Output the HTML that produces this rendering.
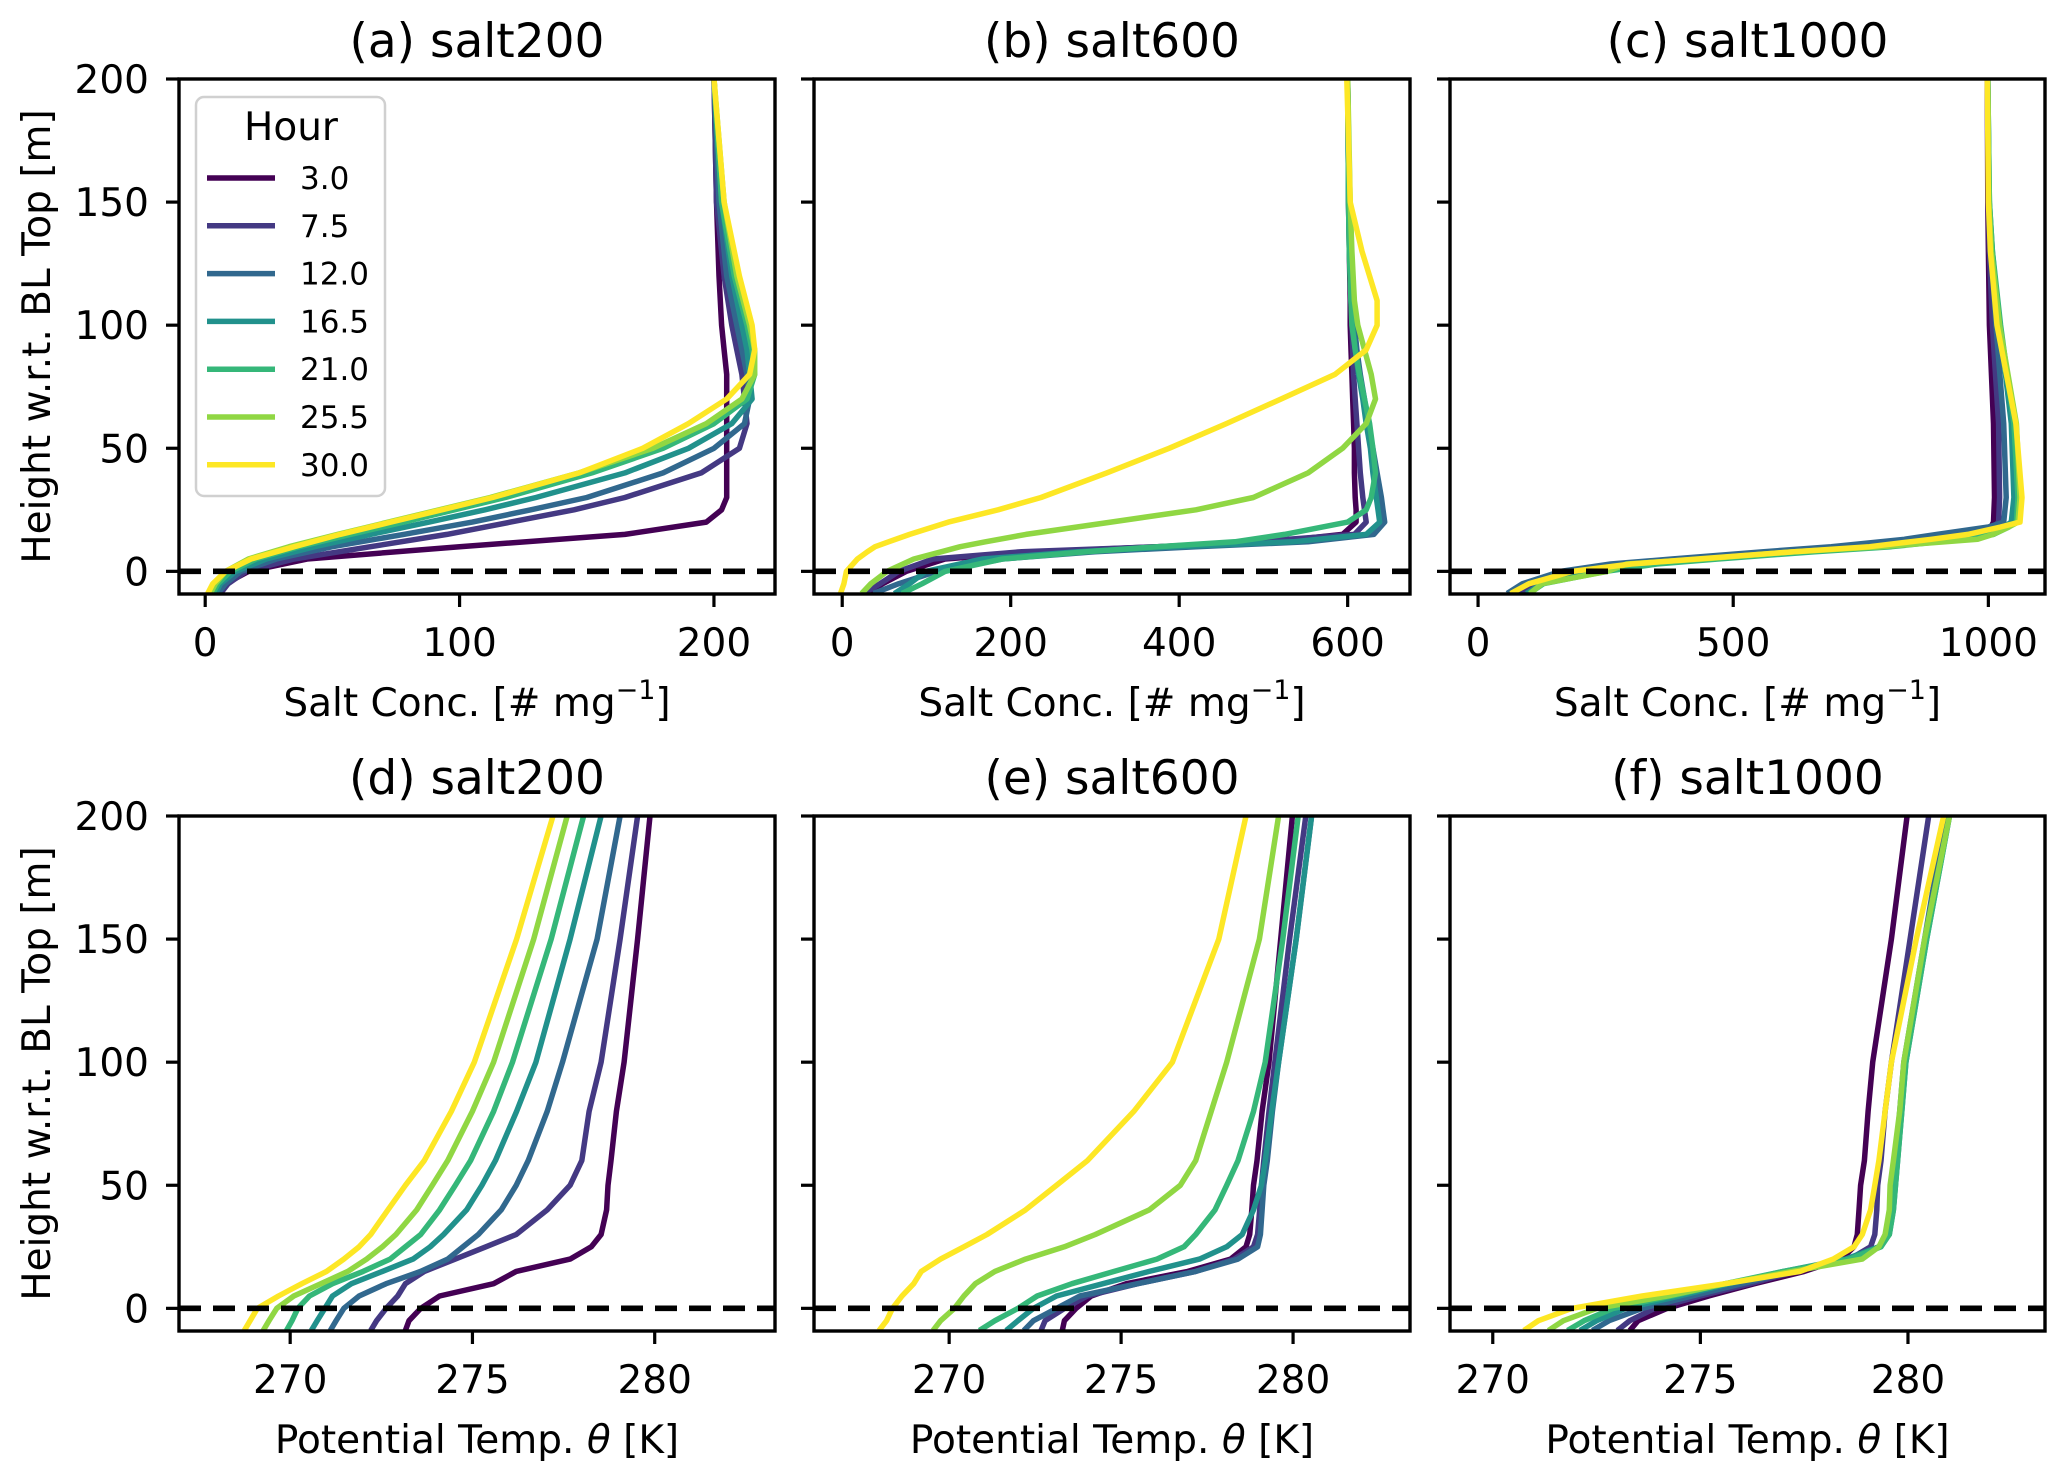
<!DOCTYPE html>
<html><head><meta charset="utf-8"><style>
html,body{margin:0;padding:0;background:#fff;}
svg{display:block;font-family:"DejaVu Sans","Liberation Sans",sans-serif;}
</style></head><body>
<svg id="fig" width="2067" height="1474" viewBox="0 0 2067 1474" xmlns="http://www.w3.org/2000/svg"></svg>
<script>
// ---------- data ----------
const hours = ["3.0","7.5","12.0","16.5","21.0","25.5","30.0"];
const colors = ["#440154","#443983","#31688e","#21918c","#35b779","#90d743","#fde725"];

const heightsA = [-9,-5,0,5,10,15,20,25,30,40,50,60,70,80,90,100,120,150,200];
const saltA_h3   = [5,8,17,40,100,165,197,203,205,205,205,205,205,205,204,203,202,201,200];
const saltA_h7   = [6,9,16,35,65,95,120,145,165,195,210,213,212,211,209,207,204,201,200];
const saltA_h12  = [5,8,14,28,50,78,105,128,150,180,200,212,214,213,211,209,205,202,200];
const saltA_h16  = [4,6,12,24,43,65,88,110,130,165,190,207,215,214,213,211,207,203,200];
const saltA_h21  = [3,5,10,20,37,57,78,98,118,152,180,200,213,216,215,213,208,203,200];
const saltA_h25  = [2,4,8,17,33,52,72,92,112,147,176,197,211,216,216,214,209,204,200];
const saltA_h30  = [1,3,8,18,35,53,73,93,113,147,172,190,205,214,216,215,210,204,200];

const heightsB = [-9,-5,0,5,8,10,12,15,20,25,30,40,50,60,70,80,90,100,110,130,150,200];
const saltB_h3  = [30,48,76,122,236,374,511,594,610,610,609,608,608,607,606,605,604,603,603,602,601,600];
const saltB_h7  = [25,45,67,108,213,374,489,608,622,620,618,615,613,611,609,607,606,605,604,603,602,600];
const saltB_h12 = [37,67,112,190,300,420,553,631,644,642,640,635,630,624,620,615,611,608,606,603,601,600];
const saltB_h16 = [62,80,99,167,280,397,535,622,638,636,634,630,627,622,618,613,609,606,604,602,601,600];
const saltB_h21 = [71,95,122,190,290,374,466,525,600,622,628,633,630,626,620,614,609,605,604,602,601,600];
const saltB_h25 = [23,34,53,85,118,140,170,218,319,420,488,553,594,622,633,628,620,612,608,605,603,600];
const saltB_h30 = [-2,2,5,18,30,39,55,80,126,185,236,314,388,456,521,585,622,635,635,617,603,599];

const heightsC = [-9,-5,0,3,5,8,10,13,15,18,20,30,60,100,130,150,200];
const saltC_h3  = [90,120,200,300,420,600,750,900,980,1005,1010,1012,1010,1002,1000,999,998];
const saltC_h7  = [80,110,190,290,410,590,740,890,975,1010,1020,1022,1020,1008,1002,1000,999];
const saltC_h12 = [57,87,162,260,380,560,692,835,900,1000,1030,1035,1030,1015,1005,1001,999];
const saltC_h16 = [95,125,230,330,450,640,790,930,1000,1030,1045,1050,1045,1022,1008,1002,999];
const saltC_h21 = [100,128,250,350,470,660,810,950,1010,1040,1055,1058,1050,1024,1008,1002,999];
const saltC_h25 = [102,125,253,291,440,620,790,979,1009,1040,1058,1062,1055,1022,1006,1001,999];
const saltC_h30 = [64,100,185,300,430,620,767,888,960,1024,1062,1066,1054,1017,1004,1000,998];

const heightsT = [-9,-5,0,5,10,15,20,25,30,40,50,60,80,100,150,200];
const thetaD_h3  = [273.16,273.26,273.58,274.1,275.58,276.2,277.68,278.26,278.53,278.68,278.72,278.8,278.95,279.16,279.53,279.87];
const thetaD_h7  = [272.21,272.37,272.63,272.95,273.16,273.68,274.53,275.37,276.2,277.05,277.68,278.0,278.2,278.53,279.05,279.53];
const thetaD_h12 = [271.1,271.26,271.47,271.89,272.63,273.58,274.32,274.74,275.16,275.79,276.2,276.53,277.05,277.47,278.42,279.05];
const thetaD_h16 = [270.58,270.74,270.95,271.16,271.68,272.53,273.37,273.84,274.21,274.84,275.26,275.63,276.21,276.74,277.68,278.53];
const thetaD_h21 = [269.9,270.05,270.21,270.53,271.16,272.0,272.74,273.16,273.58,274.1,274.53,274.95,275.58,276.1,277.16,278.05];
const thetaD_h25 = [269.26,269.42,269.63,270.1,270.84,271.58,272.1,272.53,272.9,273.47,273.9,274.32,275.0,275.58,276.68,277.6];
const thetaD_h30 = [268.74,268.9,269.1,269.68,270.32,271.0,271.47,271.89,272.21,272.68,273.16,273.68,274.42,275.05,276.21,277.21];

const thetaE_h3  = [273.29,273.35,273.69,274.13,275.15,276.94,278.18,278.63,278.74,278.8,278.85,278.95,279.1,279.3,279.64,279.98];
const thetaE_h7  = [272.67,272.79,273.35,274.02,275.48,277.17,278.29,278.85,278.97,279.03,279.08,279.15,279.3,279.47,279.9,280.37];
const thetaE_h12 = [272.17,272.45,273.12,273.8,275.48,277.17,278.4,278.97,279.05,279.1,279.15,279.25,279.4,279.58,280.09,280.54];
const thetaE_h16 = [271.66,272.0,272.45,273.12,274.47,275.82,277.28,278.07,278.52,278.85,279.08,279.19,279.38,279.58,280.09,280.54];
const thetaE_h21 = [270.88,271.33,272.0,272.56,273.57,274.8,276.04,276.83,277.17,277.73,278.07,278.4,278.85,279.19,279.7,280.15];
const thetaE_h25 = [269.53,269.75,270.15,270.43,270.76,271.33,272.22,273.35,274.25,275.82,276.72,277.17,277.62,278.07,279.02,279.58];
const thetaE_h30 = [267.96,268.18,268.35,268.63,268.97,269.19,269.75,270.43,271.1,272.22,273.12,274.02,275.37,276.49,277.84,278.63];

const thetaF_h3  = [273.3,273.5,274.2,275.2,276.3,277.5,278.4,278.7,278.78,278.82,278.86,278.95,279.04,279.15,279.6,279.98];
const thetaF_h7  = [273.0,273.3,273.9,275.0,276.2,277.3,278.6,279.1,279.2,279.25,279.27,279.35,279.45,279.6,280.05,280.5];
const thetaF_h12 = [272.4,272.8,273.6,274.8,276.0,277.2,278.6,279.3,279.5,279.6,279.65,279.7,279.8,279.9,280.4,280.9];
const thetaF_h16 = [272.1,272.5,273.2,274.5,275.7,277.0,278.5,279.3,279.55,279.65,279.7,279.75,279.85,279.95,280.45,281.0];
const thetaF_h21 = [271.8,272.2,272.9,274.3,275.6,277.0,278.6,279.35,279.55,279.65,279.7,279.75,279.85,279.95,280.45,281.0];
const thetaF_h25 = [271.34,271.7,272.5,274.2,275.6,277.2,278.9,279.3,279.45,279.55,279.57,279.65,279.8,279.9,280.4,281.0];
const thetaF_h30 = [270.75,271.1,271.9,273.6,275.6,277.4,278.2,278.7,278.9,279.1,279.2,279.3,279.45,279.6,280.2,280.86];

const yTicks = [0,50,100,150,200];
const xTicksA = [0,100,200];
const xTicksB = [0,200,400,600];
const xTicksC = [0,500,1000];
const xTicksT = [270,275,280];
const titles = ["(a) salt200","(b) salt600","(c) salt1000","(d) salt200","(e) salt600","(f) salt1000"];

// ---------- layout ----------
const NS = "http://www.w3.org/2000/svg";
const svg = document.getElementById('fig');
const colX = [[179,775],[814,1410],[1450,2045]];
const rowY = [[79,594],[816,1331]];
const yLim = [-9.2,200];

function mk(tag, attrs, parent){
  const e = document.createElementNS(NS, tag);
  for (const k in attrs) e.setAttribute(k, attrs[k]);
  (parent||svg).appendChild(e);
  return e;
}

const panels = [
  {c:0,r:0,xlim:[-10.3,224],xt:xTicksA,h:heightsA,s:[saltA_h3,saltA_h7,saltA_h12,saltA_h16,saltA_h21,saltA_h25,saltA_h30],xl:"salt"},
  {c:1,r:0,xlim:[-33.5,674],xt:xTicksB,h:heightsB,s:[saltB_h3,saltB_h7,saltB_h12,saltB_h16,saltB_h21,saltB_h25,saltB_h30],xl:"salt"},
  {c:2,r:0,xlim:[-55,1111],xt:xTicksC,h:heightsC,s:[saltC_h3,saltC_h7,saltC_h12,saltC_h16,saltC_h21,saltC_h25,saltC_h30],xl:"salt"},
  {c:0,r:1,xlim:[266.95,283.3],xt:xTicksT,h:heightsT,s:[thetaD_h3,thetaD_h7,thetaD_h12,thetaD_h16,thetaD_h21,thetaD_h25,thetaD_h30],xl:"theta"},
  {c:1,r:1,xlim:[266.07,283.4],xt:xTicksT,h:heightsT,s:[thetaE_h3,thetaE_h7,thetaE_h12,thetaE_h16,thetaE_h21,thetaE_h25,thetaE_h30],xl:"theta"},
  {c:2,r:1,xlim:[268.97,283.3],xt:xTicksT,h:heightsT,s:[thetaF_h3,thetaF_h7,thetaF_h12,thetaF_h16,thetaF_h21,thetaF_h25,thetaF_h30],xl:"theta"}
];

panels.forEach((p, i) => {
  const [x0,x1] = colX[p.c], [y0,y1] = rowY[p.r];
  const sx = v => x0 + (v - p.xlim[0])/(p.xlim[1]-p.xlim[0])*(x1-x0);
  const sy = v => y1 - (v - yLim[0])/(yLim[1]-yLim[0])*(y1-y0);
  const g = mk('g', {});
  
  
  const cp = mk('clipPath', {id:'clip'+i}, g);
  mk('rect', {x:x0, y:y0, width:x1-x0, height:y1-y0}, cp);

  p.s.forEach((arr, k) => {
    const pts = arr.map((v, j) => sx(v).toFixed(1) + ',' + sy(p.h[j]).toFixed(1)).join(' ');
    const pl = mk('polyline', {points:pts, fill:'none', stroke:colors[k], 'stroke-width':5.5, 'stroke-linejoin':'round', 'stroke-linecap':'butt', 'clip-path':'url(#clip'+i+')'}, g);
    
    
  });
  const dl = mk('line', {x1:x0, x2:x1, y1:sy(0), y2:sy(0), stroke:'#000', 'stroke-width':5.6, 'stroke-dasharray':'22 12', 'clip-path':'url(#clip'+i+')'}, g);
  
  

  const fr = mk('rect', {x:x0, y:y0, width:x1-x0, height:y1-y0, fill:'none', stroke:'#000', 'stroke-width':3.4}, g);
  
  

  p.xt.forEach(t => {
    const X = sx(t);
    mk('line', {x1:X, x2:X, y1:y1, y2:y1+13, stroke:'#000', 'stroke-width':3.2}, g);
    const tx = mk('text', {x:X, y:y1+62, 'font-size':39, 'text-anchor':'middle', fill:'#000'}, g);
    tx.textContent = t;
    
    
  });
  yTicks.forEach(t => {
    const Y = sy(t);
    mk('line', {x1:x0-13, x2:x0, y1:Y, y2:Y, stroke:'#000', 'stroke-width':3.2}, g);
    if (p.c === 0) {
      const ty = mk('text', {x:x0-30, y:Y+14, 'font-size':39, 'text-anchor':'end', fill:'#000'}, g);
      ty.textContent = t;
      
      
    }
  });
  const ti = mk('text', {x:(x0+x1)/2, y:y0-22, 'font-size':47, 'text-anchor':'middle', fill:'#000'}, g);
  ti.textContent = titles[i];
  
  
  const xl = mk('text', {x:(x0+x1)/2, y:y1+122, 'font-size':39, 'text-anchor':'middle', fill:'#000'}, g);
  if (p.xl === 'salt') {
    xl.innerHTML = 'Salt Conc. [# mg<tspan font-size="27" dy="-17">\u22121</tspan><tspan dy="17">]</tspan>';
  } else {
    xl.innerHTML = 'Potential Temp. <tspan font-style="italic">\u03b8</tspan> [K]';
  }
  
  
  if (p.c === 0) {
    const cy = (y0+y1)/2;
    const yl = mk('text', {x:0, y:0, 'font-size':39, 'text-anchor':'middle', fill:'#000', transform:'translate(50,'+cy+') rotate(-90)'}, g);
    yl.textContent = 'Height w.r.t. BL Top [m]';
    
    
  }
});

const lg = mk('g', {});


mk('rect', {x:196, y:97, width:189, height:399, rx:8, fill:'#fff', 'fill-opacity':0.85, stroke:'#d0d0d0', 'stroke-width':2.5}, lg);
const lt = mk('text', {x:291, y:140, 'font-size':39, 'text-anchor':'middle', fill:'#000'}, lg);
lt.textContent = 'Hour';


hours.forEach((h, k) => {
  const cy = 178 + k*47.8;
  const en = mk('g', {}, lg);
  
  
  mk('line', {x1:207, x2:275, y1:cy, y2:cy, stroke:colors[k], 'stroke-width':5.5}, en);
  const t = mk('text', {x:300, y:cy+11, 'font-size':31, fill:'#000'}, en);
  t.textContent = h;
});
</script>
</body></html>
